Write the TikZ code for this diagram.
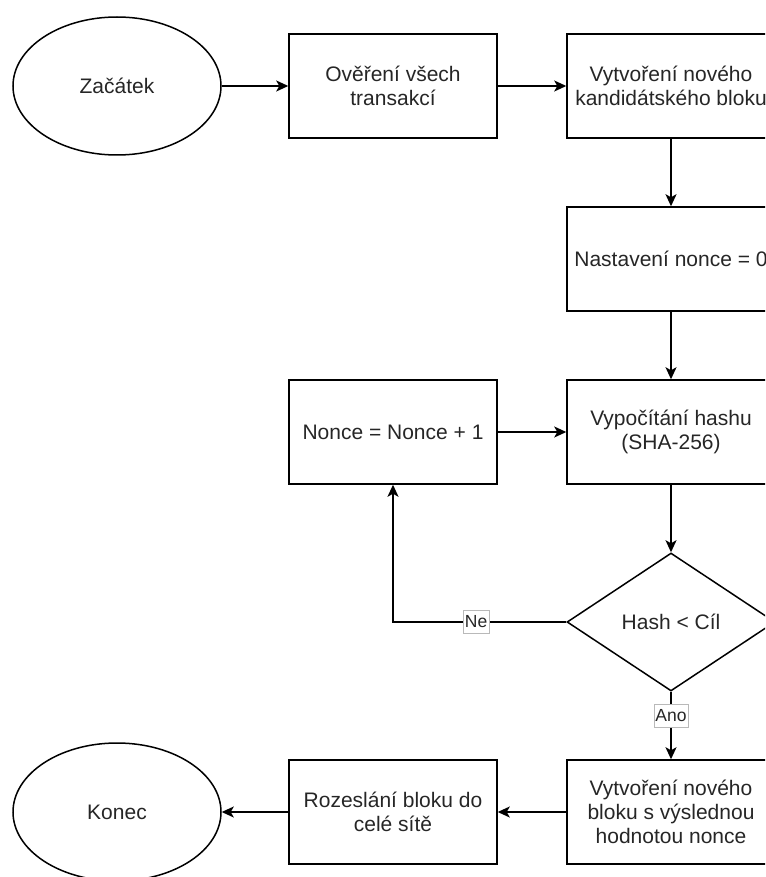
\documentclass[tikz,border=0pt]{standalone}
\usepackage{fontspec}
\setmainfont{Liberation Sans}
\usetikzlibrary{arrows.meta, shapes.geometric}

\begin{document}
\begin{tikzpicture}[x=1pt, y=-1pt,
  krok/.style={draw, line width=1.5pt, rectangle, minimum width=208pt, minimum height=104pt,
    inner sep=0pt, align=center, text=black!85, font=\fontsize{21}{24}\selectfont},
  okraj/.style={krok, ellipse, minimum height=138pt},
  podminka/.style={krok, diamond, minimum height=138pt},
  sipka/.style={line width=1.5pt, -{Stealth[length=12pt, width=11pt, inset=3pt]}},
  stitek/.style={fill=white, draw=gray!55, line width=0.6pt, inner xsep=1.5pt, inner ysep=0pt,
    minimum height=23pt, text=black!85, font=\fontsize{17.5}{20}\selectfont}]
\useasboundingbox (0,0) rectangle (765,877);
\clip (0,0) rectangle (765,877);

% horni rada
\node[okraj] (start) at (117,86) {Začátek};
\node[krok] (verify) at (393,86) {Ověření všech\\transakcí};
\node[krok] (candidate) at (671,86) {Vytvoření nového\\kandidátského bloku};

% smycka hledani nonce
\node[krok] (nonce0) at (671,259) {Nastavení nonce = 0};
\node[krok] (hash) at (671,432) {Vypočítání hashu\\(SHA-256)};
\node[krok] (incr) at (393,432) {Nonce = Nonce + 1};
\node[podminka] (check) at (671,622) {Hash < Cíl};

% dolni rada
\node[krok] (newblock) at (671,812) {Vytvoření nového\\bloku s výslednou\\hodnotou nonce};
\node[krok] (broadcast) at (393,812) {Rozeslání bloku do\\celé sítě};
\node[okraj] (end) at (117,812) {Konec};

% spojnice
\draw[sipka] (start) -- (verify);
\draw[sipka] (verify) -- (candidate);
\draw[sipka] (candidate) -- (nonce0);
\draw[sipka] (nonce0) -- (hash);
\draw[sipka] (incr) -- (hash);
\draw[sipka] (hash) -- (check);
\draw[sipka] (check.west) -| node[stitek, pos=0.26] {Ne} (incr);
\draw[sipka] (check) -- node[stitek, pos=0.35] {Ano} (newblock);
\draw[sipka] (newblock) -- (broadcast);
\draw[sipka] (broadcast) -- (end);
\end{tikzpicture}
\end{document}
